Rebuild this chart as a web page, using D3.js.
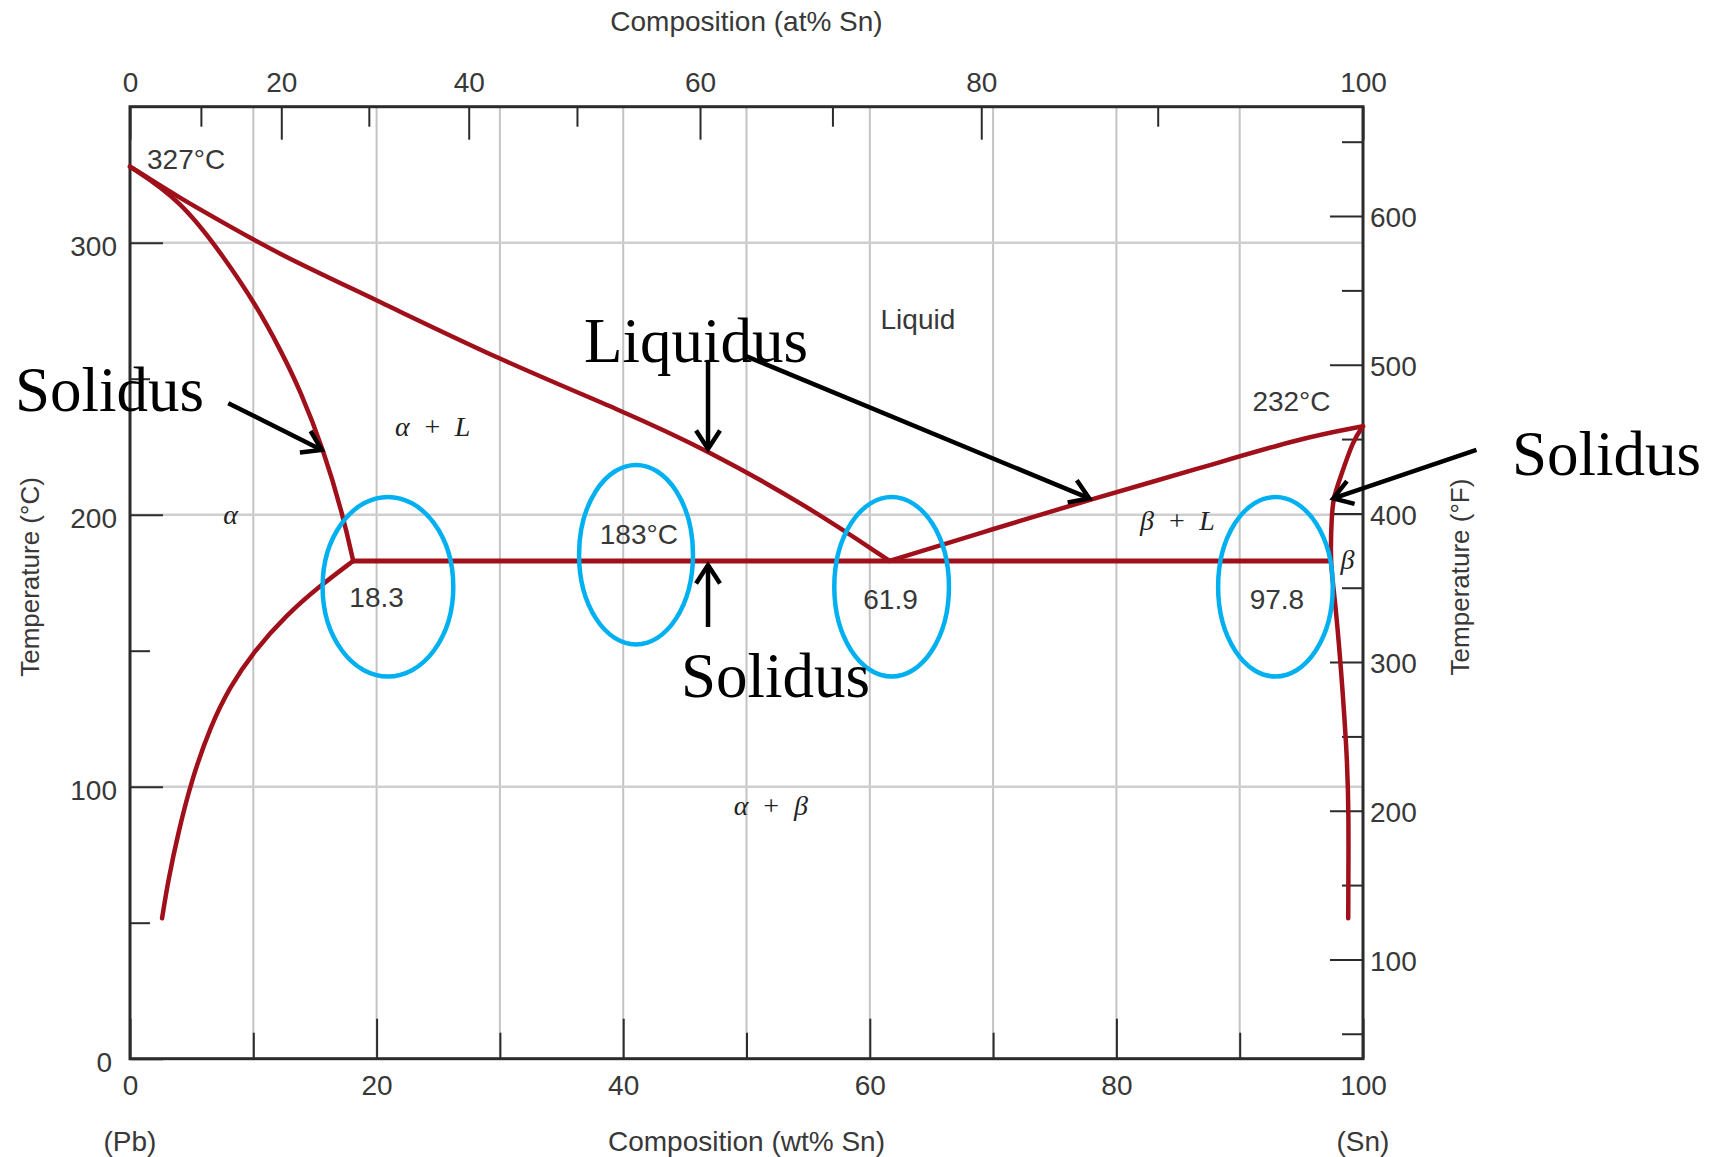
<!DOCTYPE html>
<html>
<head>
<meta charset="utf-8">
<script src="https://cdn.jsdelivr.net/npm/d3@7"></script>
<style>
  body { margin: 0; background: #fff; }
</style>
</head>
<body>
<div id="canvas"></div>
<script>
// ---- data (wt% Sn, °C) ----
const liquidusLeft = [[0, 328], [4, 316.5], [8.1, 306], [12.2, 295.5], [20, 278.9], [30, 256.9], [40, 238], [46.8, 223.8], [55, 203], [61.6, 183]];
const liquidusRight = [[61.6, 183], [70, 194.7], [77.8, 205.5], [86.8, 217.1], [94.9, 228.1], [100, 232.5]];
const solidusAlpha = [[0, 328], [4.1, 315.7], [7.6, 294.9], [10.3, 276.5], [12.2, 260.6], [13.8, 245.8], [15.7, 223.8], [17.3, 199.3], [18.1, 183]];
const solvusAlpha = [[18.1, 183], [15.4, 173.8], [12.7, 163.2], [10, 149.5], [8.1, 136.7], [6.5, 122], [5, 102.5], [3.9, 82.9], [3.1, 65.7], [2.6, 51.6]];
const betaCurve = [[100, 232.5], [99.2, 227.5], [98.1, 212.8], [97.6, 206.3], [97.45, 199.3], [97.35, 183], [97.6, 173.5], [98.0, 156.4], [98.7, 113.5], [98.85, 90.8], [98.8, 51.6]];
const eutecticLine = [[18.1, 183], [97.35, 183]];

// axes
const wtMajor = [0, 20, 40, 60, 80, 100];
const wtMinor = [10, 30, 50, 70, 90];
const atTicks = [0, 10, 20, 30, 40, 50, 60, 70, 80, 90, 100];
const atTickWt = [0, 5.75, 12.27, 19.37, 27.47, 36.25, 46.23, 56.97, 69.04, 83.35, 100]; // where each at% tick sits on the wt% axis
const atMajor = [0, 20, 40, 60, 80, 100];
const atMinor = [10, 30, 50, 70, 90];
const cMajor = [0, 100, 200, 300];
const cMinor = [50, 150, 250];
const fMajor = [100, 200, 300, 400, 500, 600];
const fMinor = [50, 150, 250, 350, 450, 550, 650];
const fRefF = [100, 600];     // °F marks ...
const fRefC = [36.5, 309.8];  // ... and the °C height they are drawn at
const gridWt = [10, 20, 30, 40, 50, 60, 70, 80, 90];
const gridC = [100, 200, 300];

// labels inside the diagram
const valueLabels = ["327°C", "Liquid", "232°C", "183°C", "18.3", "61.9", "97.8"];
const valueWt = [1.38, 63.9, 94.2, 41.27, 20.0, 61.68, 93.02];
const valueT = [330.8, 272.0, 241.8, 192.9, 169.6, 169.2, 169.0];

const phaseLabels = [["α", "L"], ["α"], ["β", "L"], ["β"], ["α", "β"]];
const phaseWt = [24.53, 8.15, 84.91, 98.75, 51.99];
const phaseT = [232.2, 199.9, 197.7, 183.3, 92.9];

// slide annotations
const calloutText = ["Solidus", "Liquidus", "Solidus", "Solidus"];
const calloutWt = [-9.33, 36.82, 44.69, 112.08];
const calloutT = [238.1, 256.1, 133.0, 214.6];
const arrowFrom = [[7.97, 241.0], [46.88, 256.9], [49.96, 258.3], [46.88, 158.7], [109.2, 223.8]];
const arrowTo = [[15.55, 223.8], [46.88, 224.2], [77.8, 206.0], [46.88, 181.5], [97.59, 206.0]];
const ellipseWt = [20.92, 41.04, 61.77, 92.9];
const ellipseT = [173.5, 185.3, 173.5, 173.5];
const ellipseRx = [5.3, 4.62, 4.65, 4.65];
const ellipseRy = [33, 33, 33, 33];

// ---- layout ----
const dims = { width: 1711, height: 1157 };
const plot = { left: 130, right: 1363, top: 106.7, bottom: 1058.7 };
const sans = '"Liberation Sans", Arial, Helvetica, sans-serif';
const serif = '"Liberation Serif", "Times New Roman", serif';
const ink = "#383838";
const curveColor = "#a0101a";

const x = d3.scaleLinear().domain([0, 100]).range([plot.left, plot.right]);
const y = d3.scaleLinear().domain([0, 350]).range([plot.bottom, plot.top]);
const xAt = d3.scaleLinear().domain(atTicks).range(atTickWt.map(x));
const yF = d3.scaleLinear().domain(fRefF).range(fRefC.map(y));

const svg = d3
  .select("#canvas")
  .append("svg")
  .attr("width", dims.width)
  .attr("height", dims.height)
  .style("background-color", "#fff");

// grid
svg.append("g")
  .selectAll("line")
  .data(gridWt)
  .enter()
  .append("line")
  .attr("x1", d => x(d)).attr("x2", d => x(d))
  .attr("y1", plot.top).attr("y2", plot.bottom)
  .attr("stroke", "#c4c4c4").attr("stroke-width", 2);

svg.append("g")
  .selectAll("line")
  .data(gridC)
  .enter()
  .append("line")
  .attr("x1", plot.left).attr("x2", plot.right)
  .attr("y1", d => y(d)).attr("y2", d => y(d))
  .attr("stroke", "#cfcfcf").attr("stroke-width", 2.5);

// axes
const styleAxis = (g, size) => {
  g.select(".domain").remove();
  g.attr("font-family", sans).attr("font-size", size || 28);
  g.selectAll(".tick line").attr("stroke", "#2b2b2b").attr("stroke-width", 2);
  g.selectAll(".tick text").attr("fill", ink);
};

svg.append("g").attr("transform", `translate(0,${plot.bottom})`)
  .call(d3.axisBottom(x).tickValues(wtMajor).tickSize(-40).tickPadding(16))
  .call(styleAxis);
svg.append("g").attr("transform", `translate(0,${plot.bottom})`)
  .call(d3.axisBottom(x).tickValues(wtMinor).tickSize(-26).tickFormat(""))
  .call(styleAxis);

svg.append("g").attr("transform", `translate(0,${plot.top})`)
  .call(d3.axisTop(xAt).tickValues(atMajor).tickSize(-33).tickPadding(15))
  .call(styleAxis);
svg.append("g").attr("transform", `translate(0,${plot.top})`)
  .call(d3.axisTop(xAt).tickValues(atMinor).tickSize(-20).tickFormat(""))
  .call(styleAxis);

const leftAxis = svg.append("g").attr("transform", `translate(${plot.left},0)`)
  .call(d3.axisLeft(y).tickValues(cMajor).tickSize(-33).tickPadding(13))
  .call(styleAxis);
leftAxis.selectAll(".tick text").attr("dy", "0.47em");
leftAxis.selectAll(".tick").filter(d => d === 0).select("text").attr("x", -18);
svg.append("g").attr("transform", `translate(${plot.left},0)`)
  .call(d3.axisLeft(y).tickValues(cMinor).tickSize(-20).tickFormat(""))
  .call(styleAxis);

const rightAxis = svg.append("g").attr("transform", `translate(${plot.right},0)`)
  .call(d3.axisRight(yF).tickValues(fMajor).tickSize(-33).tickPadding(7))
  .call(styleAxis);
rightAxis.selectAll(".tick text").attr("dy", "0.38em");
svg.append("g").attr("transform", `translate(${plot.right},0)`)
  .call(d3.axisRight(yF).tickValues(fMinor).tickSize(-21).tickFormat(""))
  .call(styleAxis);

// frame
svg.append("rect")
  .attr("x", plot.left).attr("y", plot.top)
  .attr("width", plot.right - plot.left).attr("height", plot.bottom - plot.top)
  .attr("fill", "none").attr("stroke", "#2b2b2b").attr("stroke-width", 3);

// axis titles
const title = (tx, ty, txt, size, rot) => {
  const t = svg.append("text")
    .attr("font-family", sans).attr("font-size", size)
    .attr("fill", ink).attr("text-anchor", "middle")
    .text(txt);
  if (rot) t.attr("transform", `translate(${tx},${ty}) rotate(${rot})`).attr("dy", "0.35em");
  else t.attr("x", tx).attr("y", ty);
};
title((plot.left + plot.right) / 2, 31, "Composition (at% Sn)", 28);
title((plot.left + plot.right) / 2, 1151, "Composition (wt% Sn)", 28);
title(plot.left, 1151, "(Pb)", 28);
title(plot.right, 1151, "(Sn)", 28);
title(30, 577, "Temperature (°C)", 26, -90);
title(1460, 577, "Temperature (°F)", 26, -90);

// phase boundaries
const lineGen = d3.line()
  .x(d => x(d[0]))
  .y(d => y(d[1]))
  .curve(d3.curveBasis);

const curves = svg.append("g")
  .attr("fill", "none")
  .attr("stroke", curveColor)
  .attr("stroke-width", 4.5)
  .attr("stroke-linecap", "round")
  .attr("stroke-linejoin", "round");

[liquidusLeft, liquidusRight, solidusAlpha, solvusAlpha, betaCurve].forEach(c => {
  curves.append("path").attr("d", lineGen(c));
});
curves.append("path").attr("d", d3.line().x(d => x(d[0])).y(d => y(d[1]))(eutecticLine)).attr("stroke-width", 5);

// value labels
svg.append("g")
  .selectAll("text")
  .data(valueLabels)
  .enter()
  .append("text")
  .attr("x", (d, i) => x(valueWt[i]))
  .attr("y", (d, i) => y(valueT[i]))
  .attr("dy", "0.36em")
  .attr("text-anchor", (d, i) => (i === 0 ? "start" : "middle"))
  .attr("font-family", sans)
  .attr("font-size", 28)
  .attr("fill", ink)
  .text(d => d);

// phase labels (italic greek / L)
phaseLabels.forEach((p, i) => {
  const cx = x(phaseWt[i]);
  const cy = y(phaseT[i]);
  const g = svg.append("g")
    .attr("font-family", serif)
    .attr("font-size", 28)
    .attr("fill", "#222")
    .attr("text-anchor", "middle");
  if (p.length === 1) {
    g.append("text").attr("x", cx).attr("y", cy).attr("dy", "0.33em").attr("font-style", "italic").text(p[0]);
  } else {
    g.append("text").attr("x", cx - 30).attr("y", cy).attr("dy", "0.33em").attr("font-style", "italic").text(p[0]);
    g.append("text").attr("x", cx).attr("y", cy).attr("dy", "0.33em").text("+");
    g.append("text").attr("x", cx + 30).attr("y", cy).attr("dy", "0.33em").attr("font-style", "italic").text(p[1]);
  }
});

// cyan ellipses
svg.append("g")
  .selectAll("ellipse")
  .data(ellipseWt)
  .enter()
  .append("ellipse")
  .attr("cx", d => x(d))
  .attr("cy", (d, i) => y(ellipseT[i]))
  .attr("rx", (d, i) => x(d + ellipseRx[i]) - x(d))
  .attr("ry", (d, i) => y(ellipseT[i]) - y(ellipseT[i] + ellipseRy[i]))
  .attr("fill", "none")
  .attr("stroke", "#00b0f0")
  .attr("stroke-width", 4.5);

// callout words
svg.append("g")
  .selectAll("text")
  .data(calloutText)
  .enter()
  .append("text")
  .attr("x", (d, i) => x(calloutWt[i]))
  .attr("y", (d, i) => y(calloutT[i]))
  .attr("font-family", serif)
  .attr("font-size", 63)
  .attr("fill", "#000")
  .text(d => d);

// arrows
const arrows = svg.append("g")
  .attr("stroke", "#000")
  .attr("stroke-width", 4.5)
  .attr("fill", "none")
  .attr("stroke-linecap", "butt");

arrowFrom.forEach((f, i) => {
  const x1 = x(f[0]), y1 = y(f[1]);
  const x2 = x(arrowTo[i][0]), y2 = y(arrowTo[i][1]);
  const ang = Math.atan2(y2 - y1, x2 - x1);
  const len = 22, spread = (33 * Math.PI) / 180;
  arrows.append("line").attr("x1", x1).attr("y1", y1).attr("x2", x2).attr("y2", y2);
  const a = [x2 - len * Math.cos(ang - spread), y2 - len * Math.sin(ang - spread)];
  const b = [x2 - len * Math.cos(ang + spread), y2 - len * Math.sin(ang + spread)];
  arrows.append("path")
    .attr("d", `M${a[0]},${a[1]}L${x2},${y2}L${b[0]},${b[1]}`)
    .attr("stroke-linejoin", "miter");
});
</script>
</body>
</html>
